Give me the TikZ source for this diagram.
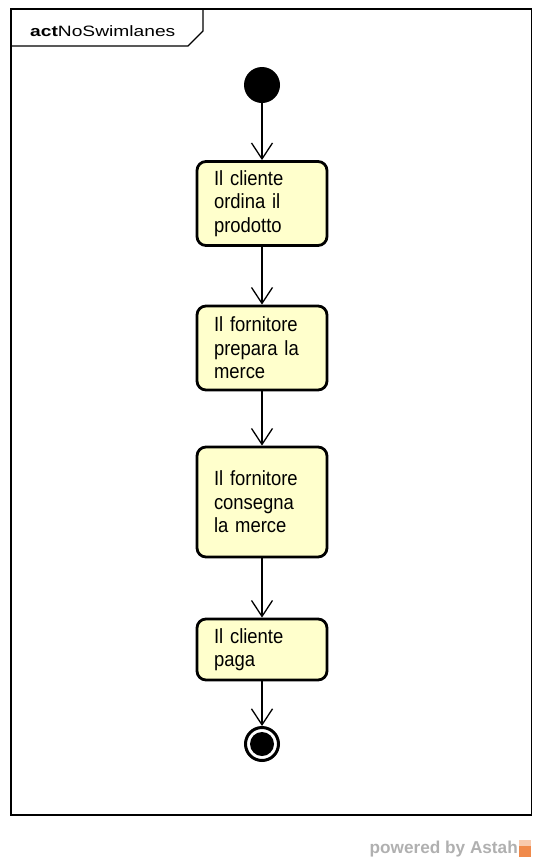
\documentclass[tikz,border=0pt]{standalone}
\usepackage{fontspec}
\setmainfont{Liberation Sans}
\newfontfamily\boxfont[FakeStretch=0.9]{Liberation Sans}
\newfontfamily\titlefont[FakeStretch=1.28]{Liberation Sans}
\usetikzlibrary{arrows.meta}
\definecolor{actfill}{HTML}{FFFFCC}
\definecolor{astahgray}{HTML}{B0B0B0}
\definecolor{astahorange}{HTML}{F08A4B}
\tikzset{
  action/.style={draw=black, line width=2.8pt, rounded corners=9pt, fill=actfill,
    minimum width=129pt, text width=96pt, inner xsep=17pt, align=left,
    font=\boxfont\fontsize{20.5}{23.5}\selectfont},
  flow/.style={line width=1.3pt, -{Straight Barb[length=16pt,width=21pt,line width=1.3pt]}},
  frameline/.style={line width=1.4pt, black}
}
\begin{document}
\begin{tikzpicture}[x=1pt, y=-1pt]
\useasboundingbox (0,0) rectangle (533,857);

% diagram frame and its name tab
\draw[frameline] (11,9) rectangle (531.5,815);
\draw[frameline] (203,9) -- (203,31) -- (188,46) -- (11,46);
\node[anchor=base west, inner sep=0pt, font=\titlefont\fontsize{15}{18}\selectfont] (title) at (30,36)
  {\textbf{act}NoSwimlanes};

% initial node
\node[circle, fill=black, minimum size=36pt, inner sep=0pt] (start) at (262,85) {};

% actions
\node[action, minimum height=84pt] (a1) at (262,203.5) {Il cliente\\ordina il\\prodotto};
\node[action, minimum height=84pt] (a2) at (262,348) {Il fornitore\\prepara la\\merce};
\node[action, minimum height=110pt] (a3) at (262,502) {Il fornitore\\consegna\\la merce};
\node[action, minimum height=61pt] (a4) at (262,649.5) {Il cliente\\paga};

% final node
\node[circle, draw=black, line width=3pt, fill=white, minimum size=33pt, inner sep=0pt] (end) at (262,744) {};
\node[circle, fill=black, minimum size=24pt, inner sep=0pt] (endin) at (end.center) {};

% control flows
\draw[flow] (start) -- (a1);
\draw[flow] (a1) -- (a2);
\draw[flow] (a2) -- (a3);
\draw[flow] (a3) -- (a4);
\draw[flow] (a4) -- (end);

% tool credit
\node[anchor=base east, inner sep=0pt, text=astahgray, font=\fontsize{17.2}{19}\selectfont\bfseries] (credit) at (518,853)
  {powered by Astah};
\fill[astahorange] (519,840) rectangle (531,857);
\fill[astahorange!45] (519,840) rectangle (531,846);
\end{tikzpicture}
\end{document}
